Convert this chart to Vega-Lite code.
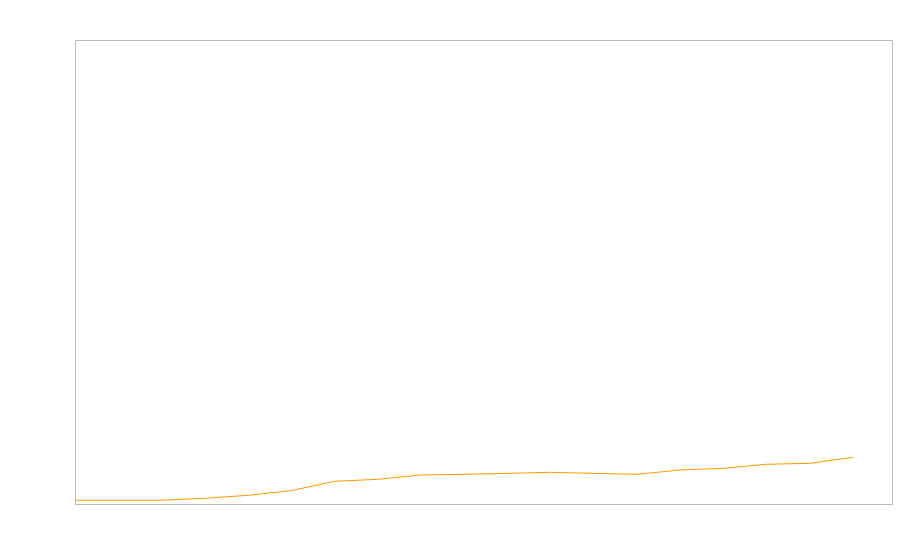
{
  "$schema": "https://vega.github.io/schema/vega-lite/v6.json",
  "width": 817,
  "height": 464,
  "autosize": {"type": "none"},
  "padding": {"left": 75, "top": 40, "right": 8, "bottom": 56},
  "background": "white",
  "config": {"view": {"stroke": "#bbbbbb", "strokeWidth": 1}},
  "data": {"values": [
    {"i": 0, "v": 0.8}, {"i": 1, "v": 0.8}, {"i": 2, "v": 0.8}, {"i": 3, "v": 1.23},
    {"i": 4, "v": 1.87}, {"i": 5, "v": 2.87}, {"i": 6, "v": 4.89}, {"i": 7, "v": 5.32},
    {"i": 8, "v": 6.25}, {"i": 9, "v": 6.4}, {"i": 10, "v": 6.6}, {"i": 11, "v": 6.83},
    {"i": 12, "v": 6.6}, {"i": 13, "v": 6.4}, {"i": 14, "v": 7.33}, {"i": 15, "v": 7.69},
    {"i": 16, "v": 8.56}, {"i": 17, "v": 8.77}, {"i": 18, "v": 10.06}
  ]},
  "mark": {"type": "line", "color": "#ff9900", "strokeWidth": 1, "clip": true},
  "encoding": {
    "x": {"field": "i", "type": "quantitative", "scale": {"domain": [0, 18.9], "nice": false, "zero": false}, "axis": null},
    "y": {"field": "v", "type": "quantitative", "scale": {"domain": [0, 100], "nice": false}, "axis": null}
  }
}
